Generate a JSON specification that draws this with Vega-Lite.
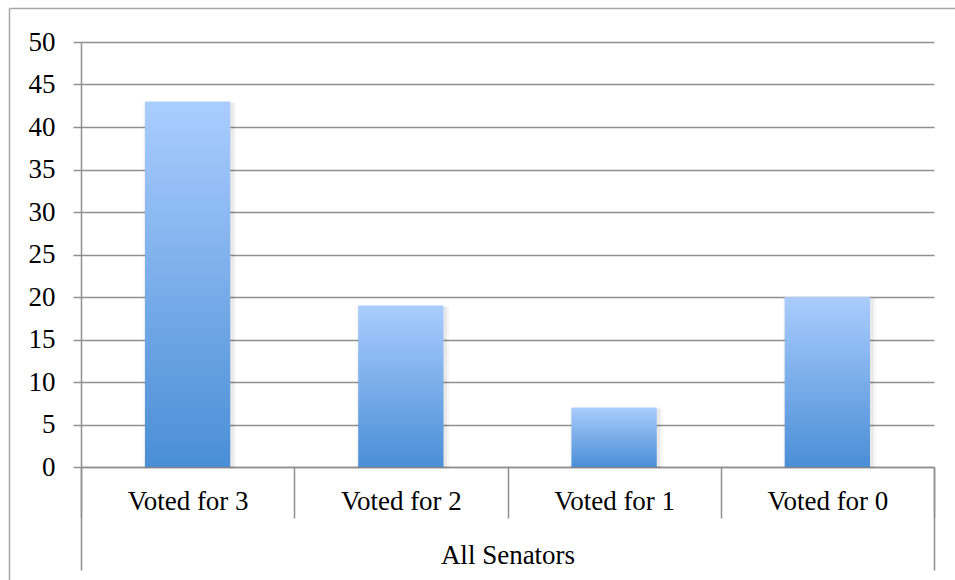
{
  "$schema": "https://vega.github.io/schema/vega-lite/v6.json",
  "autosize": {"type": "none"},
  "padding": {"left": 81, "top": 42, "right": 21, "bottom": 113},
  "width": 853,
  "height": 425,
  "background": "white",
  "config": {
    "view": {"stroke": null},
    "font": "Liberation Serif",
    "axis": {
      "labelFont": "Liberation Serif",
      "labelFontSize": 27,
      "labelColor": "#000000",
      "titleFont": "Liberation Serif",
      "domainColor": "#8f8f8f",
      "tickColor": "#8f8f8f",
      "gridColor": "#8f8f8f",
      "domainWidth": 1.5,
      "tickWidth": 1.5,
      "gridWidth": 1.5
    }
  },
  "data": {
    "values": [
      {"votes": "Voted for 3", "senators": 43, "group": "All Senators"},
      {"votes": "Voted for 2", "senators": 19, "group": "All Senators"},
      {"votes": "Voted for 1", "senators": 7, "group": "All Senators"},
      {"votes": "Voted for 0", "senators": 20, "group": "All Senators"}
    ]
  },
  "layer": [
    {
      "mark": {"type": "bar", "width": {"band": 0.435}, "color": "#000000", "opacity": 0.035, "xOffset": 2, "yOffset": 1},
      "encoding": {
        "x": {"field": "votes", "type": "nominal", "sort": null, "scale": {"type": "band", "paddingInner": 0, "paddingOuter": 0}, "axis": null},
        "y": {"field": "senators", "type": "quantitative", "scale": {"domain": [0, 50], "nice": false}, "axis": null}
      }
    },
    {
      "mark": {"type": "bar", "width": {"band": 0.418}, "color": "#000000", "opacity": 0.05, "xOffset": 1.5, "yOffset": 1},
      "encoding": {
        "x": {"field": "votes", "type": "nominal", "sort": null, "scale": {"type": "band", "paddingInner": 0, "paddingOuter": 0}, "axis": null},
        "y": {"field": "senators", "type": "quantitative", "scale": {"domain": [0, 50], "nice": false}, "axis": null}
      }
    },
    {
      "mark": {
        "type": "bar",
        "width": {"band": 0.4},
        "color": {
          "gradient": "linear",
          "x1": 0, "y1": 0, "x2": 0, "y2": 1,
          "stops": [
            {"offset": 0, "color": "#aacdfe"},
            {"offset": 1, "color": "#4a8ed6"}
          ]
        }
      },
      "encoding": {
        "x": {
          "field": "votes",
          "type": "nominal",
          "sort": null,
          "scale": {"type": "band", "paddingInner": 0, "paddingOuter": 0},
          "axis": {
            "orient": "bottom",
            "title": null,
            "tickBand": "extent",
            "tickSize": 51,
            "labelAngle": 0,
            "labelPadding": -30,
            "grid": false
          }
        },
        "y": {
          "field": "senators",
          "type": "quantitative",
          "scale": {"domain": [0, 50], "nice": false},
          "axis": {
            "orient": "left",
            "title": null,
            "values": [0, 5, 10, 15, 20, 25, 30, 35, 40, 45, 50],
            "tickSize": 8,
            "labelPadding": 18,
            "grid": true
          }
        }
      }
    },
    {
      "mark": {"type": "point", "opacity": 0},
      "encoding": {
        "x": {
          "field": "group",
          "type": "nominal",
          "scale": {"type": "band", "paddingInner": 0, "paddingOuter": 0},
          "axis": {
            "orient": "bottom",
            "title": null,
            "domain": false,
            "grid": false,
            "tickBand": "extent",
            "tickSize": 103,
            "labelAngle": 0,
            "labelPadding": -28
          }
        }
      }
    },
    {
      "mark": {"type": "point", "opacity": 0},
      "encoding": {
        "x": {
          "datum": 0,
          "type": "quantitative",
          "scale": {"domain": [0, 1], "range": [-72, 1000]},
          "axis": {
            "orient": "top",
            "offset": 34,
            "title": null,
            "ticks": false,
            "labels": false,
            "grid": false,
            "domainColor": "#a6a6a6",
            "domainWidth": 1.5
          }
        },
        "y": {
          "datum": 0,
          "type": "quantitative",
          "scale": {"domain": [0, 1], "range": [640, -34]},
          "axis": {
            "orient": "left",
            "offset": 72,
            "title": null,
            "ticks": false,
            "labels": false,
            "grid": false,
            "domainColor": "#a6a6a6",
            "domainWidth": 1.5
          }
        }
      }
    }
  ],
  "resolve": {
    "scale": {"x": "independent", "y": "independent"},
    "axis": {"x": "independent", "y": "independent"}
  }
}
